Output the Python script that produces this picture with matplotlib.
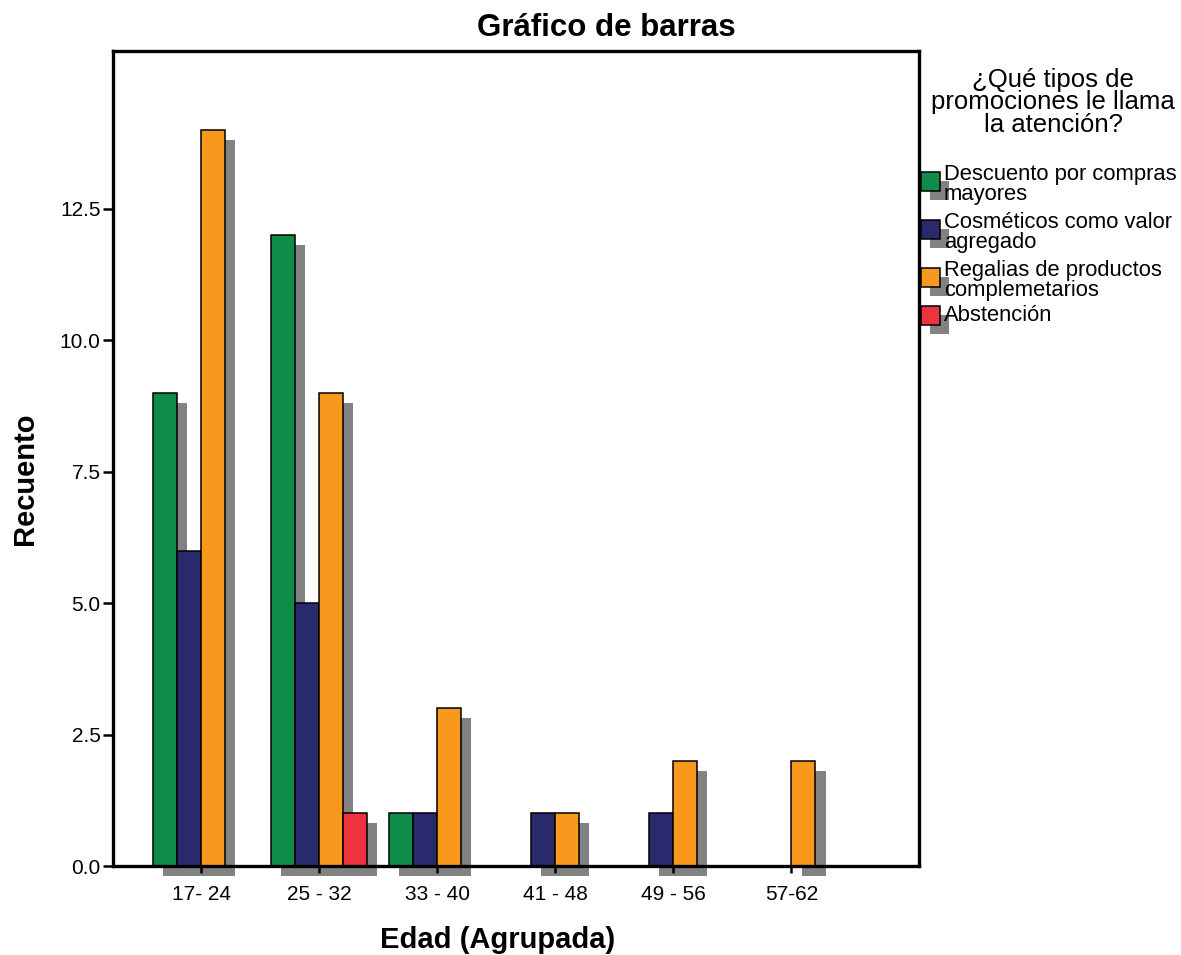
import numpy as np
import matplotlib.pyplot as plt
from matplotlib.patches import Rectangle

plt.rcParams['font.family'] = ['Liberation Sans', 'DejaVu Sans']

grupos = ['17- 24', '25 - 32', '33 - 40', '41 - 48', '49 - 56', '57-62']
series = ['Descuento por compras\nmayores', 'Cosméticos como valor\nagregado',
          'Regalias de productos\ncomplemetarios', 'Abstención']
colores = ['#108C4A', '#29296E', '#F8991D', '#EE3340']

descuento = [9, 12, 1, 0, 0, 0]
cosmeticos = [6, 5, 1, 1, 1, 0]
regalias = [14, 9, 3, 1, 2, 2]
abstencion = [0, 1, 0, 0, 0, 0]
valores = [descuento, cosmeticos, regalias, abstencion]

W, H = 1181, 955
fig = plt.figure(figsize=(W / 100, H / 100), dpi=100)
ax = fig.add_axes([113 / W, 1 - 866 / H, (919 - 113) / W, (866 - 51) / H])

x = np.arange(len(grupos))
ancho = 0.2034
dx, dy = 0.085, 0.19  # desplazamiento de la sombra
for i, (vals, col) in enumerate(zip(valores, colores)):
    pos = x + (i - 1.5) * ancho
    for p, v in zip(pos, vals):
        if v > 0:
            ax.bar(p + dx, v, width=ancho, bottom=-dy, color='#828282',
                   linewidth=0, zorder=1, clip_on=False)
    ax.bar(pos, vals, width=ancho, color=col, edgecolor='black',
           linewidth=1.1, zorder=2)

ax.set_xlim(-0.746, 6.08)
ax.set_ylim(0, 15.5)
ax.set_yticks([0, 2.5, 5, 7.5, 10, 12.5])
ax.set_yticklabels(['0.0', '2.5', '5.0', '7.5', '10.0', '12.5'])
ax.set_xticks(x)
ax.set_xticklabels(grupos)
ax.tick_params(axis='y', labelsize=15, length=7, width=1.8, pad=2)
ax.tick_params(axis='x', labelsize=15, length=5, width=1.8, pad=9)
for s in ax.spines.values():
    s.set_linewidth(2.4)
    s.set_zorder(5)

fig.text(606 / W, 1 - 28 / H, 'Gráfico de barras', fontsize=22.5,
         fontweight='bold', ha='center', va='center')
ax.set_xlabel('Edad (Agrupada)', fontsize=21, fontweight='bold')
ax.xaxis.set_label_coords((498 - 113) / (919 - 113), -(940 - 866) / (866 - 51))
ax.set_ylabel('Recuento', fontsize=21, fontweight='bold')
ax.yaxis.set_label_coords(-(113 - 25) / (919 - 113), (866 - 479) / (866 - 51))
ax.xaxis.label.set_va('center')
ax.yaxis.label.set_va('center')

# leyenda manual con sombras
fig.text(1053 / W, 1 - 68 / H, '¿Qué tipos de\npromociones le llama\nla atención?',
         ha='center', va='top', multialignment='center', fontsize=18.5,
         linespacing=0.92)
tops = [172, 220, 268, 306]
lado = 19
for t, lab, col in zip(tops, series, colores):
    fig.add_artist(Rectangle(((921 + 9) / W, 1 - (t + lado + 9) / H), lado / W, lado / H,
                             transform=fig.transFigure, facecolor='#828282',
                             edgecolor='none'))
    fig.add_artist(Rectangle((921 / W, 1 - (t + lado) / H), lado / W, lado / H,
                             transform=fig.transFigure, facecolor=col,
                             edgecolor='black', linewidth=1.1))
    yc = t + lado / 2 + (3 if '\n' in lab else 0)
    fig.text(944 / W, 1 - yc / H, lab, ha='left', va='center', fontsize=15.8,
             linespacing=0.95)

fig.savefig('out.png', dpi=100)
